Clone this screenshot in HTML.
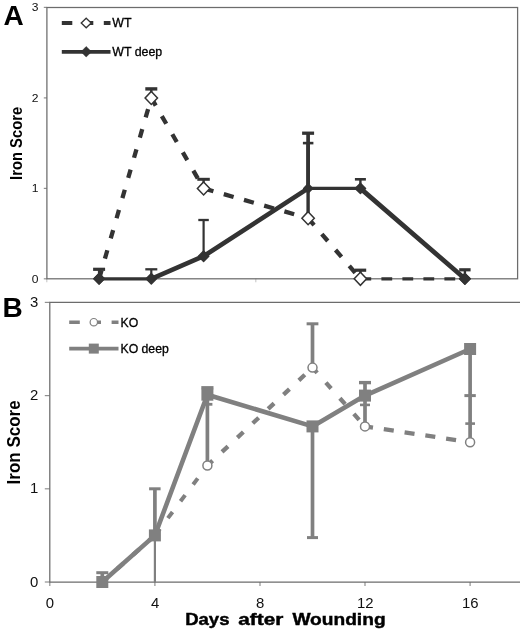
<!DOCTYPE html>
<html><head><meta charset="utf-8"><title>Iron Score</title>
<style>
html,body{margin:0;padding:0;background:#fff;}
body{width:520px;height:630px;overflow:hidden;font-family:"Liberation Sans",sans-serif;}
svg{display:block;will-change:transform;filter:blur(0.35px);}
</style></head><body>
<svg width="520" height="630" viewBox="0 0 520 630">
<rect width="520" height="630" fill="#fff"/>
<g fill="none" stroke="#6c6c6c" stroke-width="1.25">
<rect x="46.9" y="7.5" width="470.7" height="271.3"/>
<polyline points="522,302.4 49.8,302.4 49.8,582 522,582"/>
</g>
<g stroke="#6c6c6c" stroke-width="1.2" opacity="0.75">
<line x1="43.8" y1="278.8" x2="46.9" y2="278.8"/>
<line x1="44.8" y1="582.0" x2="49.8" y2="582.0"/>
<line x1="43.8" y1="188.4" x2="46.9" y2="188.4"/>
<line x1="44.8" y1="488.8" x2="49.8" y2="488.8"/>
<line x1="43.8" y1="97.9" x2="46.9" y2="97.9"/>
<line x1="44.8" y1="395.6" x2="49.8" y2="395.6"/>
<line x1="43.8" y1="7.4" x2="46.9" y2="7.4"/>
<line x1="44.8" y1="302.4" x2="49.8" y2="302.4"/>
<line x1="49.8" y1="582" x2="49.8" y2="586" />
<line x1="154.9" y1="582" x2="154.9" y2="586" />
<line x1="260.0" y1="582" x2="260.0" y2="586" />
<line x1="365.0" y1="582" x2="365.0" y2="586" />
<line x1="470.1" y1="582" x2="470.1" y2="586" />
<line x1="46.8" y1="278.8" x2="46.8" y2="282.3" opacity="0.45"/>
<line x1="151.3" y1="278.8" x2="151.3" y2="282.3" opacity="0.45"/>
<line x1="255.8" y1="278.8" x2="255.8" y2="282.3" opacity="0.45"/>
<line x1="360.4" y1="278.8" x2="360.4" y2="282.3" opacity="0.45"/>
<line x1="464.9" y1="278.8" x2="464.9" y2="282.3" opacity="0.45"/>
</g>
<line x1="99.1" y1="278.8" x2="151.3" y2="97.9" stroke="#333333" stroke-width="4.3" stroke-dasharray="8.69 12.31" stroke-dashoffset="0.00"/>
<line x1="151.3" y1="97.9" x2="203.6" y2="188.4" stroke="#333333" stroke-width="4.3" stroke-dasharray="8.90 12.10" stroke-dashoffset="0.00"/>
<line x1="203.6" y1="188.4" x2="308.1" y2="218.2" stroke="#333333" stroke-width="4.3" stroke-dasharray="10.20 10.80" stroke-dashoffset="0.00"/>
<line x1="308.1" y1="218.2" x2="360.4" y2="278.8" stroke="#333333" stroke-width="4.3" stroke-dasharray="9.13 11.87" stroke-dashoffset="0.00"/>
<line x1="360.4" y1="278.8" x2="464.9" y2="278.8" stroke="#333333" stroke-width="3.3" stroke-dasharray="10.80 10.20" stroke-dashoffset="0.00"/>
<line x1="99.1" y1="278.8" x2="151.3" y2="278.8" stroke="#333333" stroke-width="3.3" stroke-linecap="round"/>
<line x1="151.3" y1="278.8" x2="203.6" y2="256.2" stroke="#333333" stroke-width="4.7" stroke-linecap="round"/>
<line x1="203.6" y1="256.2" x2="308.1" y2="188.4" stroke="#333333" stroke-width="4.7" stroke-linecap="round"/>
<line x1="308.1" y1="188.4" x2="360.4" y2="188.4" stroke="#333333" stroke-width="3.3" stroke-linecap="round"/>
<line x1="360.4" y1="188.4" x2="464.9" y2="278.8" stroke="#333333" stroke-width="4.7" stroke-linecap="round"/>
<line x1="99.1" y1="278.8" x2="99.1" y2="269.3" stroke="#333333" stroke-width="2.4"/>
<line x1="93.1" y1="269.3" x2="105.1" y2="269.3" stroke="#333333" stroke-width="3.2"/>
<line x1="151.3" y1="97.9" x2="151.3" y2="88.9" stroke="#333333" stroke-width="2.4"/>
<line x1="145.3" y1="88.9" x2="157.3" y2="88.9" stroke="#333333" stroke-width="3.4"/>
<line x1="203.6" y1="188.4" x2="203.6" y2="179.3" stroke="#333333" stroke-width="2.4"/>
<line x1="197.3" y1="179.3" x2="209.8" y2="179.3" stroke="#333333" stroke-width="3.0"/>
<line x1="308.1" y1="218.2" x2="308.1" y2="143.1" stroke="#333333" stroke-width="3.4"/>
<line x1="302.9" y1="143.1" x2="313.4" y2="143.1" stroke="#333333" stroke-width="2.6"/>
<line x1="360.4" y1="278.8" x2="360.4" y2="270.2" stroke="#333333" stroke-width="2.4"/>
<line x1="354.6" y1="270.2" x2="366.2" y2="270.2" stroke="#333333" stroke-width="3.2"/>
<line x1="464.9" y1="278.8" x2="464.9" y2="269.8" stroke="#333333" stroke-width="2.4"/>
<line x1="459.2" y1="269.8" x2="470.6" y2="269.8" stroke="#333333" stroke-width="3.2"/>
<line x1="151.3" y1="278.8" x2="151.3" y2="269.3" stroke="#333333" stroke-width="2.2"/>
<line x1="145.3" y1="269.3" x2="157.3" y2="269.3" stroke="#333333" stroke-width="2.3"/>
<line x1="203.6" y1="256.2" x2="203.6" y2="220.0" stroke="#333333" stroke-width="2.2"/>
<line x1="198.3" y1="220.0" x2="208.8" y2="220.0" stroke="#333333" stroke-width="2.3"/>
<line x1="308.1" y1="188.4" x2="308.1" y2="133.2" stroke="#333333" stroke-width="3.7"/>
<line x1="302.1" y1="133.2" x2="314.1" y2="133.2" stroke="#333333" stroke-width="3.3"/>
<line x1="360.4" y1="188.4" x2="360.4" y2="179.3" stroke="#333333" stroke-width="2.4"/>
<line x1="354.9" y1="179.3" x2="365.9" y2="179.3" stroke="#333333" stroke-width="2.6"/>
<polygon points="99.1,273.6 104.3,278.8 99.1,284.0 93.9,278.8" fill="#333333" stroke="#333333" stroke-width="1.4" stroke-linejoin="round"/>
<polygon points="151.3,273.6 156.5,278.8 151.3,284.0 146.1,278.8" fill="#333333" stroke="#333333" stroke-width="1.4" stroke-linejoin="round"/>
<polygon points="203.6,251.0 208.8,256.2 203.6,261.4 198.4,256.2" fill="#333333" stroke="#333333" stroke-width="1.4" stroke-linejoin="round"/>
<polygon points="308.1,183.8 312.7,188.4 308.1,192.9 303.6,188.4" fill="#333333" stroke="#333333" stroke-width="1.4" stroke-linejoin="round"/>
<polygon points="360.4,183.2 365.6,188.4 360.4,193.6 355.2,188.4" fill="#333333" stroke="#333333" stroke-width="1.4" stroke-linejoin="round"/>
<polygon points="464.9,273.6 470.1,278.8 464.9,284.0 459.7,278.8" fill="#333333" stroke="#333333" stroke-width="1.4" stroke-linejoin="round"/>
<polygon points="151.3,91.4 157.5,97.9 151.3,104.4 145.1,97.9" fill="#fff" stroke="#333333" stroke-width="1.5"/>
<polygon points="203.6,181.9 209.8,188.4 203.6,194.9 197.4,188.4" fill="#fff" stroke="#333333" stroke-width="1.5"/>
<polygon points="308.1,211.7 314.3,218.2 308.1,224.7 301.9,218.2" fill="#fff" stroke="#333333" stroke-width="1.5"/>
<polygon points="360.4,272.3 366.6,278.8 360.4,285.3 354.2,278.8" fill="#fff" stroke="#333333" stroke-width="1.5"/>
<polygon points="464.9,273.4 470.3,278.8 464.9,284.2 459.5,278.8" fill="#333333" stroke="#333333" stroke-width="1.4" stroke-linejoin="round"/>
<polygon points="99.1,273.6 104.3,278.8 99.1,284.0 93.9,278.8" fill="#333333" stroke="#333333" stroke-width="1.4" stroke-linejoin="round"/>
<line x1="61.8" y1="23" x2="110.5" y2="23" stroke="#333333" stroke-width="3.8" stroke-dasharray="10.5 10.5"/>
<polygon points="86.2,18.2 91.2,23.0 86.2,27.8 81.2,23.0" fill="#fff" stroke="#333333" stroke-width="1.3"/>
<line x1="61.8" y1="51.8" x2="110.5" y2="51.8" stroke="#333333" stroke-width="3.8"/>
<polygon points="86.2,46.5 91.5,51.8 86.2,57.0 81.0,51.8" fill="#333333" stroke="#333333" stroke-width="0.5"/>
<line x1="102.3" y1="582.0" x2="154.9" y2="535.4" stroke="#808080" stroke-width="4.3" stroke-dasharray="8.21 12.79" stroke-dashoffset="1.06"/>
<line x1="154.9" y1="535.4" x2="207.4" y2="465.5" stroke="#808080" stroke-width="4.0" stroke-dasharray="7.72 13.28" stroke-dashoffset="-0.64"/>
<line x1="207.4" y1="465.5" x2="312.5" y2="367.6" stroke="#808080" stroke-width="4.3" stroke-dasharray="8.15 12.85" stroke-dashoffset="1.02"/>
<line x1="312.5" y1="367.6" x2="365.0" y2="426.4" stroke="#808080" stroke-width="4.3" stroke-dasharray="7.92 13.08" stroke-dashoffset="0.91"/>
<line x1="365.0" y1="426.4" x2="470.1" y2="442.2" stroke="#808080" stroke-width="4.3" stroke-dasharray="10.06 10.94" stroke-dashoffset="1.98"/>
<polyline points="102.3,582.0 154.9,535.4 207.4,394.7 312.5,426.4 365.0,395.6 470.1,349.0" fill="none" stroke="#808080" stroke-width="4.6" stroke-linejoin="round"/>
<line x1="102.3" y1="582.0" x2="102.3" y2="572.7" stroke="#808080" stroke-width="3.7"/>
<line x1="96.3" y1="572.7" x2="108.3" y2="572.7" stroke="#808080" stroke-width="3"/>
<line x1="154.9" y1="535.4" x2="154.9" y2="488.8" stroke="#808080" stroke-width="3.7"/>
<line x1="149.1" y1="488.8" x2="160.6" y2="488.8" stroke="#808080" stroke-width="3"/>
<line x1="154.9" y1="582.0" x2="154.9" y2="535.4" stroke="#808080" stroke-width="2.2"/>
<line x1="207.4" y1="465.5" x2="207.4" y2="395.6" stroke="#808080" stroke-width="3.7"/>
<line x1="202.4" y1="404.3" x2="212.4" y2="404.3" stroke="#808080" stroke-width="2.8"/>
<line x1="201.3" y1="387.7" x2="213.5" y2="387.7" stroke="#808080" stroke-width="3.2"/>
<line x1="312.5" y1="367.6" x2="312.5" y2="323.8" stroke="#808080" stroke-width="3.7"/>
<line x1="306.6" y1="323.8" x2="318.4" y2="323.8" stroke="#808080" stroke-width="3"/>
<line x1="312.5" y1="537.6" x2="312.5" y2="426.4" stroke="#808080" stroke-width="3.7"/>
<line x1="307.0" y1="537.6" x2="318.0" y2="537.6" stroke="#808080" stroke-width="3"/>
<line x1="365.0" y1="426.4" x2="365.0" y2="382.6" stroke="#808080" stroke-width="3.7"/>
<line x1="359.0" y1="382.6" x2="371.0" y2="382.6" stroke="#808080" stroke-width="3.4"/>
<line x1="360.0" y1="404.9" x2="370.0" y2="404.9" stroke="#808080" stroke-width="2.6"/>
<line x1="470.1" y1="442.2" x2="470.1" y2="349.0" stroke="#808080" stroke-width="3.7"/>
<line x1="464.4" y1="395.6" x2="475.8" y2="395.6" stroke="#808080" stroke-width="3"/>
<line x1="465.3" y1="423.6" x2="475.0" y2="423.6" stroke="#808080" stroke-width="2.6"/>
<circle cx="154.9" cy="535.4" r="4.5" fill="#fff" stroke="#808080" stroke-width="1.5"/>
<circle cx="207.4" cy="465.5" r="4.5" fill="#fff" stroke="#808080" stroke-width="1.5"/>
<circle cx="312.5" cy="367.6" r="4.5" fill="#fff" stroke="#808080" stroke-width="1.5"/>
<circle cx="365.0" cy="426.4" r="4.5" fill="#fff" stroke="#808080" stroke-width="1.5"/>
<circle cx="470.1" cy="442.2" r="4.5" fill="#fff" stroke="#808080" stroke-width="1.5"/>
<rect x="96.3" y="576.0" width="12" height="12" fill="#808080"/>
<rect x="148.9" y="529.4" width="12" height="12" fill="#808080"/>
<rect x="201.4" y="388.7" width="12" height="12" fill="#808080"/>
<rect x="306.5" y="420.4" width="12" height="12" fill="#808080"/>
<rect x="359.0" y="389.6" width="12" height="12" fill="#808080"/>
<rect x="464.1" y="343.0" width="12" height="12" fill="#808080"/>
<line x1="69.2" y1="322.2" x2="118.5" y2="322.2" stroke="#808080" stroke-width="3.5" stroke-dasharray="10.6 10.6"/>
<circle cx="93.8" cy="322.2" r="3.7" fill="#fff" stroke="#808080" stroke-width="1.2"/>
<line x1="69.2" y1="348.6" x2="118.5" y2="348.6" stroke="#808080" stroke-width="3.6"/>
<rect x="88.8" y="343.6" width="10" height="10" fill="#808080"/>
<g font-family="'Liberation Sans', sans-serif">
<text transform="translate(3.40,25.30)" font-size="28" font-weight="bold" text-anchor="start" fill="#000">A</text>
<text transform="translate(2.40,317.20)" font-size="28" font-weight="bold" text-anchor="start" fill="#000">B</text>
<text transform="translate(38.50,282.60) scale(1.08,1.0)" font-size="11.2" text-anchor="end" fill="#111">0</text>
<text transform="translate(38.50,192.15) scale(1.08,1.0)" font-size="11.2" text-anchor="end" fill="#111">1</text>
<text transform="translate(38.50,101.70) scale(1.08,1.0)" font-size="11.2" text-anchor="end" fill="#111">2</text>
<text transform="translate(38.50,11.25) scale(1.08,1.0)" font-size="11.2" text-anchor="end" fill="#111">3</text>
<text transform="translate(38.40,586.50) scale(1.08,1.0)" font-size="13.8" text-anchor="end" fill="#111">0</text>
<text transform="translate(38.40,493.30) scale(1.08,1.0)" font-size="13.8" text-anchor="end" fill="#111">1</text>
<text transform="translate(38.40,400.10) scale(1.08,1.0)" font-size="13.8" text-anchor="end" fill="#111">2</text>
<text transform="translate(38.40,306.90) scale(1.08,1.0)" font-size="13.8" text-anchor="end" fill="#111">3</text>
<text transform="translate(50.00,608.00) scale(1.08,1.0)" font-size="13.8" text-anchor="middle" fill="#111">0</text>
<text transform="translate(155.08,608.00) scale(1.08,1.0)" font-size="13.8" text-anchor="middle" fill="#111">4</text>
<text transform="translate(260.16,608.00) scale(1.08,1.0)" font-size="13.8" text-anchor="middle" fill="#111">8</text>
<text transform="translate(365.24,608.00) scale(1.08,1.0)" font-size="13.8" text-anchor="middle" fill="#111">12</text>
<text transform="translate(470.32,608.00) scale(1.08,1.0)" font-size="13.8" text-anchor="middle" fill="#111">16</text>
<text transform="translate(112.30,27.20) scale(1.03,1.0)" font-size="12" stroke="#000" stroke-width="0.3" text-anchor="start" fill="#000">WT</text>
<text transform="translate(112.30,56.00) scale(1.03,1.0)" font-size="12" stroke="#000" stroke-width="0.3" text-anchor="start" fill="#000">WT deep</text>
<text transform="translate(120.50,326.50) scale(1.02,1.0)" font-size="12" stroke="#000" stroke-width="0.3" text-anchor="start" fill="#000">KO</text>
<text transform="translate(120.50,353.00) scale(1.02,1.0)" font-size="12" stroke="#000" stroke-width="0.3" text-anchor="start" fill="#000">KO deep</text>
<text transform="translate(22.40,143.40) rotate(-90) scale(1.0,1.14)" font-size="14.8" font-weight="bold" text-anchor="middle" fill="#000">Iron Score</text>
<text transform="translate(19.60,442.40) rotate(-90) scale(1.0,1.09)" font-size="17" font-weight="bold" text-anchor="middle" fill="#000">Iron Score</text>
<text x="185.2" y="625.2" font-size="17" font-weight="bold" fill="#000" stroke="#000" stroke-width="0.45" textLength="44.3" lengthAdjust="spacingAndGlyphs">Days</text>
<text x="238.3" y="625.2" font-size="17" font-weight="bold" fill="#000" stroke="#000" stroke-width="0.45" textLength="45.0" lengthAdjust="spacingAndGlyphs">after</text>
<text x="292.4" y="625.2" font-size="17" font-weight="bold" fill="#000" stroke="#000" stroke-width="0.45" textLength="93.2" lengthAdjust="spacingAndGlyphs">Wounding</text>
</g>
</svg>
</body></html>
